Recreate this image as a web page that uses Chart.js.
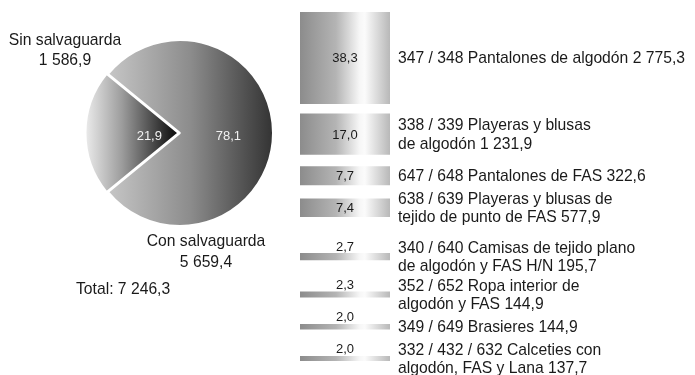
<!DOCTYPE html>
<html>
<head>
<meta charset="utf-8">
<script src="https://cdn.jsdelivr.net/npm/chart.js@4.4.0/dist/chart.umd.min.js"></script>
<style>
  html, body { margin: 0; padding: 0; background: #fff; }
  #wrap { position: relative; width: 695px; height: 375px; }
  #pieChart { position: absolute; left: 0; top: 0; }
  #barChart { position: absolute; left: 290px; top: 0; }
</style>
</head>
<body>
<div id="wrap">
  <canvas id="pieChart" width="290" height="375"></canvas>
  <canvas id="barChart" width="405" height="375"></canvas>
</div>
<script>
// pie: imports with / without safeguard
const pieLabels = ['Sin salvaguarda', 'Con salvaguarda'];
const pieShares = [21.9, 78.1];
const pieValues = [1586.9, 5659.4];
const pieTotal = 7246.3;

// column: share of each product group inside the safeguarded imports
const itemNames = [
  ['347 / 348 Pantalones de algodón'],
  ['338 / 339 Playeras y blusas', 'de algodón'],
  ['647 / 648 Pantalones de FAS'],
  ['638 / 639 Playeras y blusas de', 'tejido de punto de FAS'],
  ['340 / 640 Camisas de tejido plano', 'de algodón y FAS H/N'],
  ['352 / 652 Ropa interior de', 'algodón y FAS'],
  ['349 / 649 Brasieres'],
  ['332 / 432 / 632 Calceties con', 'algodón, FAS y Lana']
];
const itemShares = [38.3, 17.0, 7.7, 7.4, 2.7, 2.3, 2.0, 2.0];
const itemValues = [2775.3, 1231.9, 322.6, 577.9, 195.7, 144.9, 144.9, 137.7];

// white space left between consecutive blocks (same units as the shares)
const rowGaps = [4.2, 5.0, 5.8, 15.4, 13.3, 11.3, 11.3];

const FONT = '"Liberation Sans", Arial, Helvetica, sans-serif';
const INK = '#1a1a1a';

// 1586.9 -> "1 586,9"
function fmt(v, dec) {
  const parts = v.toFixed(dec === undefined ? 1 : dec).split('.');
  parts[0] = parts[0].replace(/\B(?=(\d{3})+(?!\d))/g, ' ');
  return parts.join(',');
}

//---------------- PIE ----------------
const PIE_R = 93;
const PIE_OFFSET = 6;

function pieFill(ctx) {
  const chart = ctx.chart;
  const area = chart.chartArea;
  if (!area) return '#888';
  const cx = (area.left + area.right) / 2;
  let g;
  if (ctx.dataIndex === 0) {
    g = chart.ctx.createLinearGradient(cx - PIE_R - PIE_OFFSET, 0, cx - PIE_OFFSET, 0);
    g.addColorStop(0, '#f8f8f8');
    g.addColorStop(0.45, '#9e9e9e');
    g.addColorStop(1, '#161616');
  } else {
    const half = pieShares[0] * Math.PI / 100;
    g = chart.ctx.createLinearGradient(cx - PIE_R * Math.cos(half), 0, cx + PIE_R, 0);
    g.addColorStop(0, '#c6c6c6');
    g.addColorStop(0.5, '#8c8c8c');
    g.addColorStop(1, '#333333');
  }
  return g;
}

const pieText = {
  id: 'pieText',
  afterDatasetsDraw(chart) {
    const c = chart.ctx;
    const arcs = chart.getDatasetMeta(0).data;
    const labelR = [0.33, 0.52];
    c.save();
    c.textBaseline = 'middle';
    c.textAlign = 'center';
    c.fillStyle = '#f2f2f2';
    c.font = '13px ' + FONT;
    arcs.forEach((a, i) => {
      const mid = (a.startAngle + a.endAngle) / 2;
      const r = a.outerRadius * labelR[i];
      c.fillText(fmt(pieShares[i]), a.x + Math.cos(mid) * r, a.y + Math.sin(mid) * r + 3);
    });

    const cx = arcs[1].x, cy = arcs[1].y;
    c.fillStyle = INK;
    c.font = '15.7px ' + FONT;
    c.fillText(pieLabels[0], cx - 115, cy - 92);
    c.fillText(fmt(pieValues[0]), cx - 115, cy - 72);
    c.fillText(pieLabels[1], cx + 26, cy + 109);
    c.fillText(fmt(pieValues[1]), cx + 26, cy + 130);
    c.textAlign = 'left';
    c.fillText('Total: ' + fmt(pieTotal), cx - 104, cy + 157);
    c.restore();
  }
};

new Chart(document.getElementById('pieChart'), {
  type: 'pie',
  data: {
    labels: pieLabels,
    datasets: [{
      data: pieShares,
      backgroundColor: pieFill,
      borderColor: '#ffffff',
      borderWidth: 2,
      offset: [PIE_OFFSET, 0]
    }]
  },
  options: {
    responsive: false,
    animation: false,
    radius: PIE_R,
    // small slice centred on the left side
    rotation: 270 - pieShares[0] * 3.6 / 2,
    layout: { padding: { left: 80, right: 10, top: 30, bottom: 139 } },
    plugins: { legend: { display: false }, tooltip: { enabled: false } }
  },
  plugins: [pieText]
});

//---------------- COLUMN ----------------
const barRanges = [];
let pos = 0;
itemShares.forEach((v, i) => {
  if (i > 0) pos += rowGaps[i - 1];
  barRanges.push([pos, pos + v]);
  pos += v;
});

let barGrad = null;
function barFill(ctx) {
  const chart = ctx.chart;
  const area = chart.chartArea;
  if (!area) return '#aaa';
  if (!barGrad) {
    barGrad = chart.ctx.createLinearGradient(area.left, 0, area.right, 0);
    barGrad.addColorStop(0, '#8c8c8c');
    barGrad.addColorStop(0.4, '#b4b4b4');
    barGrad.addColorStop(0.66, '#f6f6f6');
    barGrad.addColorStop(0.72, '#fbfbfb');
    barGrad.addColorStop(1, '#b8b8b8');
  }
  return barGrad;
}

const barText = {
  id: 'barText',
  afterDatasetsDraw(chart) {
    const c = chart.ctx;
    c.save();
    c.textBaseline = 'middle';
    chart.data.datasets.forEach((ds, i) => {
      const bar = chart.getDatasetMeta(i).data[0];
      const top = Math.min(bar.y, bar.base);
      const bottom = Math.max(bar.y, bar.base);
      const mid = (top + bottom) / 2;

      // share inside the block, or just above it when the block is thin
      c.textAlign = 'center';
      c.fillStyle = INK;
      c.font = '13px ' + FONT;
      const vy = bottom - top > 14 ? mid : top - 7.5;
      c.fillText(fmt(itemShares[i]), bar.x, vy + 1);

      // product description, value appended on the last line
      const lines = itemNames[i].slice();
      lines[lines.length - 1] += ' ' + fmt(itemValues[i]);
      c.textAlign = 'left';
      c.font = '15.7px ' + FONT;
      const lh = 18.5;
      const y0 = mid - (lines.length - 1) * lh / 2;
      lines.forEach((t, j) => c.fillText(t, bar.x + bar.width / 2 + 8, y0 + j * lh + 1));
    });
    c.restore();
  }
};

new Chart(document.getElementById('barChart'), {
  type: 'bar',
  data: {
    labels: [''],
    datasets: barRanges.map(r => ({
      data: [r],
      backgroundColor: barFill,
      borderWidth: 0,
      barPercentage: 1,
      categoryPercentage: 1
    }))
  },
  options: {
    responsive: false,
    animation: false,
    layout: { padding: { left: 10, right: 305, top: 12, bottom: 14 } },
    scales: {
      x: { display: false, stacked: true },
      y: { display: false, reverse: true, min: 0, max: pos }
    },
    plugins: { legend: { display: false }, tooltip: { enabled: false } }
  },
  plugins: [barText]
});
</script>
</body>
</html>
